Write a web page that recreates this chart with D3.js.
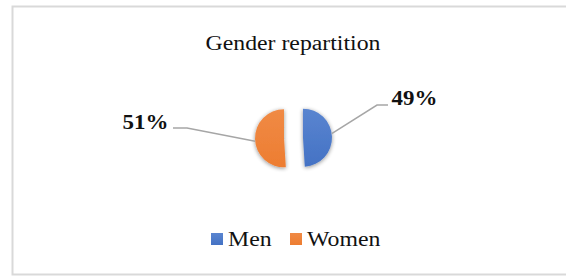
<!DOCTYPE html>
<html><head><meta charset="utf-8">
<script src="https://cdn.jsdelivr.net/npm/d3@7"></script>
<style>html,body{margin:0;padding:0;background:#fff;}svg{display:block;}</style>
</head><body>
<svg id="chart" width="566" height="276"></svg>
<script>
const categories = ["Men", "Women"];
const values = [49, 51];
const valueLabels = ["49%", "51%"];
const colors = ["#4472c4", "#ed7d31"];
const lightColors = ["#5a85d0", "#f08a45"];
const title = "Gender repartition";

const svg = d3.select("#chart");
const W = 566, H = 276;
const font = "'Liberation Serif','Times New Roman',serif";
const SX = 1.16;

svg.append("rect").attr("x", 12.5).attr("y", 6.5).attr("width", 570).attr("height", 268)
  .attr("fill", "#fff").attr("stroke", "#d9d9d9").attr("stroke-width", 2);

const defs = svg.append("defs");
const f = defs.append("filter").attr("id", "sh").attr("x", "-50%").attr("y", "-50%").attr("width", "200%").attr("height", "200%");
f.append("feGaussianBlur").attr("in", "SourceAlpha").attr("stdDeviation", 2.2).attr("result", "b");
f.append("feOffset").attr("in", "b").attr("dx", 0).attr("dy", 0.5).attr("result", "o");
f.append("feComponentTransfer").attr("in", "o").attr("result", "o2")
  .append("feFuncA").attr("type", "linear").attr("slope", 0.45);
const m = f.append("feMerge");
m.append("feMergeNode").attr("in", "o2");
m.append("feMergeNode").attr("in", "SourceGraphic");

categories.forEach((c, i) => {
  const g = defs.append("linearGradient").attr("id", "gr" + i).attr("x1", 0).attr("y1", 0).attr("x2", 0).attr("y2", 1);
  g.append("stop").attr("offset", "0%").attr("stop-color", lightColors[i]);
  g.append("stop").attr("offset", "100%").attr("stop-color", colors[i]);
});

// title
svg.append("text").attr("transform", `translate(${W/2 + 10},50) scale(${SX},1)`)
  .attr("text-anchor", "middle").attr("font-family", font).attr("font-size", 20.5)
  .attr("fill", "#111").text(title);

const cx = 293.5, cy = 138, R = 29, explode = 9.5;
const pie = d3.pie().sort(null).value(d => d)(values);
const arc = d3.arc().innerRadius(0).outerRadius(R);

const pg = svg.append("g").attr("transform", `translate(${cx},${cy})`);
pie.forEach((p, i) => {
  const mid = (p.startAngle + p.endAngle) / 2;
  const dx = Math.sin(mid) * explode, dy = -Math.cos(mid) * explode;
  p.dx = dx; p.dy = dy;
  pg.append("path").attr("d", arc(p)).attr("transform", `translate(${dx},${dy})`)
    .attr("fill", `url(#gr${i})`).attr("filter", "url(#sh)");
});

// leader lines and labels
const leader = [
  {angle: 82 * Math.PI / 180, elbow: [83.5, -33], end: [94.5, -33], tx: 98, ty: -33, anchor: "start"},
  {angle: 264 * Math.PI / 180, elbow: [-106.5, -10], end: [-120.5, -10], tx: -125, ty: -9, anchor: "end"}
];
pie.forEach((p, i) => {
  const L = leader[i];
  const sx = p.dx + Math.sin(L.angle) * R, sy = p.dy - Math.cos(L.angle) * R;
  pg.append("polyline").attr("points", [[sx, sy], L.elbow, L.end].map(d => d.join(",")).join(" "))
    .attr("fill", "none").attr("stroke", "#a6a6a6").attr("stroke-width", 1.5);
  pg.append("text").attr("transform", `translate(${L.tx},${L.ty}) scale(1.12,1)`)
    .attr("text-anchor", L.anchor).attr("font-family", font).attr("font-weight", "bold")
    .attr("font-size", 20.5).attr("fill", "#111").text(valueLabels[i]);
});

// legend
const legendX = [211, 290];
const lg = svg.append("g");
categories.forEach((c, i) => {
  lg.append("rect").attr("x", legendX[i]).attr("y", 233).attr("width", 12).attr("height", 12)
    .attr("fill", `url(#gr${i})`);
  lg.append("text").attr("transform", `translate(${legendX[i] + 17},246) scale(${SX},1)`)
    .attr("font-family", font).attr("font-size", 20.5).attr("fill", "#111").text(c);
});
</script>
</body></html>
